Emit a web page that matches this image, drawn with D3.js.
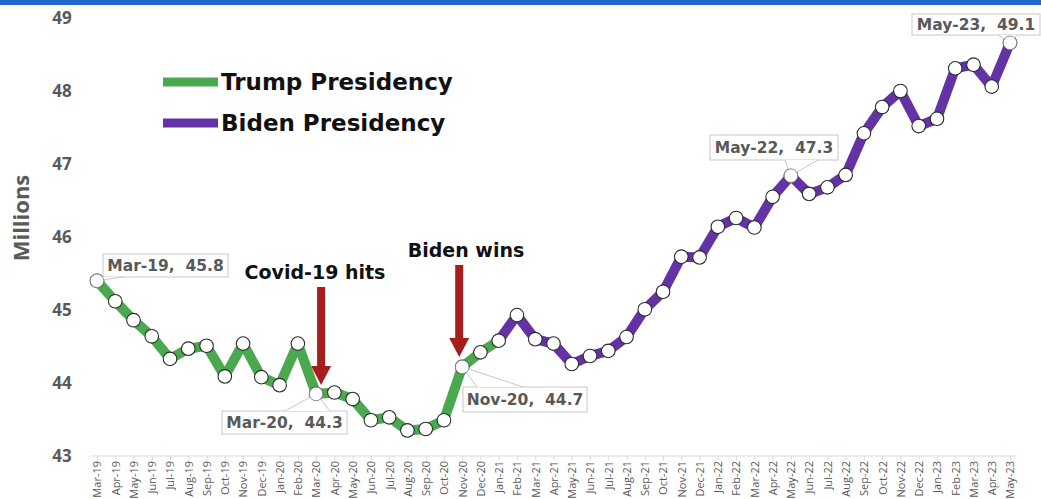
<!DOCTYPE html>
<html><head><meta charset="utf-8">
<script src="https://cdn.jsdelivr.net/npm/d3@7"></script>
<style>
html,body{margin:0;padding:0;background:#fff;}
svg{display:block;}
text{font-family:"Open Sans","DejaVu Sans",sans-serif;}
</style></head>
<body>
<svg id="chart" width="1041" height="499"></svg>
<script>
const months = ["Mar-19","Apr-19","May-19","Jun-19","Jul-19","Aug-19","Sep-19","Oct-19","Nov-19","Dec-19",
 "Jan-20","Feb-20","Mar-20","Apr-20","May-20","Jun-20","Jul-20","Aug-20","Sep-20","Oct-20","Nov-20","Dec-20",
 "Jan-21","Feb-21","Mar-21","Apr-21","May-21","Jun-21","Jul-21","Aug-21","Sep-21","Oct-21","Nov-21","Dec-21",
 "Jan-22","Feb-22","Mar-22","Apr-22","May-22","Jun-22","Jul-22","Aug-22","Sep-22","Oct-22","Nov-22","Dec-22",
 "Jan-23","Feb-23","Mar-23","Apr-23","May-23"];
const values = [45.40,45.12,44.86,44.64,44.33,44.47,44.51,44.09,44.54,44.08,
 43.97,44.54,43.85,43.87,43.78,43.49,43.53,43.35,43.37,43.49,44.22,44.42,
 44.58,44.93,44.60,44.54,44.26,44.37,44.44,44.63,45.01,45.25,45.73,45.72,
 46.14,46.26,46.13,46.55,46.84,46.59,46.68,46.85,47.42,47.78,48.00,47.52,
 47.62,48.31,48.36,48.06,48.66];
const yTicks = [43,44,45,46,47,48,49];
const trumpEnd = "Jan-21";
const seriesNames = ["Trump Presidency","Biden Presidency"];
const seriesColors = ["#4aa84f","#6333a6"];
const callouts = [
  {month:"Mar-19", text:"Mar-19,  45.8"},
  {month:"Mar-20", text:"Mar-20,  44.3"},
  {month:"Nov-20", text:"Nov-20,  44.7"},
  {month:"May-22", text:"May-22,  47.3"},
  {month:"May-23", text:"May-23,  49.1"}
];
const events = [
  {month:"Mar-20", text:"Covid-19 hits"},
  {month:"Nov-20", text:"Biden wins"}
];

const svg = d3.select("#chart");
const x = d3.scalePoint().domain(months).range([97,1010]);
const y = d3.scaleLinear().domain([43,49]).range([456,18]);
const grey = "#595959";
const boldFont = "'DejaVu Sans',sans-serif";

// top blue band
svg.append("rect").attr("x",0).attr("y",0).attr("width",1041).attr("height",5).attr("fill","#2467cf");

// y tick labels
svg.append("g").selectAll("text").data(yTicks).join("text")
  .attr("x",62).attr("y",d=>y(d)).attr("dy","0.35em")
  .attr("text-anchor","middle").attr("font-size",17).attr("font-weight","bold")
  .attr("fill",grey).text(d=>d);

svg.append("text").attr("transform","translate(29,218) rotate(-90)")
  .attr("text-anchor","middle").attr("font-size",22).attr("font-weight","bold")
  .attr("fill",grey).text("Millions");

// x axis
const xAxis = d3.axisBottom(x).tickSize(4).tickPadding(3);
const gx = svg.append("g").attr("transform","translate(0,456)").call(xAxis);
gx.select(".domain").attr("stroke","#d9d9d9").attr("d","M"+(x(months[0])-6)+",0H"+(x(months[months.length-1])+6));
gx.selectAll(".tick line").attr("stroke","#d9d9d9");
gx.selectAll(".tick text").attr("font-size",11).attr("fill",grey)
  .attr("transform","rotate(-90)").attr("text-anchor","end").attr("x",-5).attr("y",0).attr("dy","0.35em")
  .style("font-family","'Liberation Sans Narrow','Open Sans',sans-serif");

// lines
const data = months.map((m,i)=>({m, v:values[i]}));
const idx = months.indexOf(trumpEnd);
const segs = [data.slice(0,idx+1), data.slice(idx)];
const line = d3.line().x(d=>x(d.m)).y(d=>y(d.v));
segs.forEach((s,i)=>{
  svg.append("path").datum(s).attr("d",line).attr("fill","none")
    .attr("stroke",seriesColors[i]).attr("stroke-width",10).attr("stroke-linejoin","round");
});

// markers
svg.append("g").selectAll("circle").data(data).join("circle")
  .attr("cx",d=>x(d.m)).attr("cy",d=>y(d.v)).attr("r",6.8)
  .attr("fill","#fff").attr("stroke","#2b2b2b").attr("stroke-width",1.1);

// legend
seriesNames.forEach((n,i)=>{
  const ly = 82 + i*41;
  svg.append("line").attr("x1",163).attr("x2",218).attr("y1",ly).attr("y2",ly)
    .attr("stroke",seriesColors[i]).attr("stroke-width",9);
  svg.append("text").attr("x",221).attr("y",ly).attr("dy","0.36em")
    .attr("font-size",23).attr("font-weight","bold").style("font-family",boldFont)
    .attr("fill","#111").text(n);
});

// event arrows
const evLayout = {"Mar-20":{tx:315,ty:279,top:287,headTop:366,tip:385,dx:5},
                  "Nov-20":{tx:466,ty:257,top:265,headTop:338,tip:357,dx:-3}};
events.forEach(e=>{
  const L = evLayout[e.month];
  const cx = x(e.month)+L.dx;
  svg.append("text").attr("x",L.tx).attr("y",L.ty).attr("text-anchor","middle")
    .attr("font-size",19).attr("font-weight","bold").style("font-family",boldFont)
    .attr("fill","#111").text(e.text);
  svg.append("path").attr("fill","#a61d1d")
    .attr("d",`M${cx-4},${L.top}H${cx+4}V${L.headTop}H${cx+10}L${cx},${L.tip}L${cx-10},${L.headTop}H${cx-4}Z`);
});

// callouts
const boxLayout = {
  "Mar-19":{x0:103,y0:254,w:125,h:23,b1:[103,277],b2:[123,277]},
  "Mar-20":{x0:222,y0:411,w:125,h:23,b1:[285,411],b2:[330,411]},
  "Nov-20":{x0:463,y0:387,w:124,h:25,b1:[477,387],b2:[523,387]},
  "May-22":{x0:710,y0:135,w:128,h:25,b1:[785,160],b2:[818,160]},
  "May-23":{x0:912,y0:14,w:128,h:21,b1:[998,35],b2:[1017,35]}
};
callouts.forEach(c=>{
  const B = boxLayout[c.month];
  const px = x(c.month), py = y(values[months.indexOf(c.month)]);
  const g = svg.append("g");
  g.append("rect").attr("x",B.x0).attr("y",B.y0).attr("width",B.w).attr("height",B.h)
    .attr("fill","#fff").attr("stroke","#c8c8c8").attr("stroke-width",1);
  g.append("path").attr("d",`M${B.b1[0]},${B.b1[1]}L${px},${py}L${B.b2[0]},${B.b2[1]}Z`)
    .attr("fill","#fff").attr("stroke","none");
  g.append("path").attr("d",`M${B.b1[0]},${B.b1[1]}L${px},${py}L${B.b2[0]},${B.b2[1]}`)
    .attr("fill","none").attr("stroke","#c8c8c8").attr("stroke-width",1);
  g.append("text").attr("x",B.x0+B.w/2).attr("y",B.y0+B.h/2).attr("dy","0.36em")
    .attr("text-anchor","middle").attr("font-size",15.5).attr("font-weight","bold")
    .style("font-family",boldFont)
    .attr("fill",grey).style("white-space","pre").text(c.text);
});
// redraw markers on top of callout wedges for labelled points
svg.append("g").selectAll("circle").data(data.filter(d=>callouts.some(c=>c.month===d.m))).join("circle")
  .attr("cx",d=>x(d.m)).attr("cy",d=>y(d.v)).attr("r",6.8)
  .attr("fill","#fff").attr("stroke","#8a8a8a").attr("stroke-width",1);
</script>
</body></html>
